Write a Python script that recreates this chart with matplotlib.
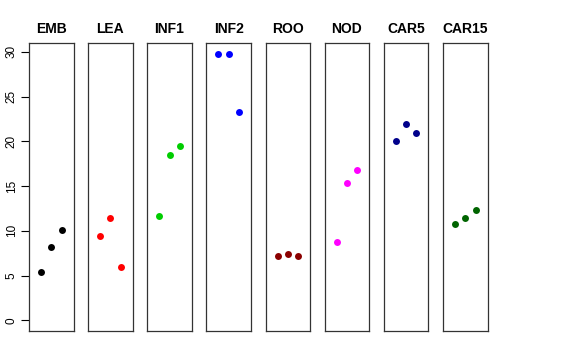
import matplotlib
matplotlib.use('Agg')
import matplotlib.pyplot as plt

plt.rcParams['font.family'] = ['Liberation Sans', 'DejaVu Sans']

# 패널 이름과 색
groups = ['EMB', 'LEA', 'INF1', 'INF2', 'ROO', 'NOD', 'CAR5', 'CAR15']
colors = ['black', 'red', '#00CD00', 'blue', '#8B0000', 'magenta', '#00008B', '#006400']

# 각 패널의 세 점 값
values = [
    [5.4, 8.2, 10.1],
    [9.4, 11.4, 6.0],
    [11.7, 18.5, 19.5],
    [29.8, 29.8, 23.3],
    [7.2, 7.4, 7.2],
    [8.7, 15.4, 16.8],
    [20.0, 21.9, 20.9],
    [10.8, 11.4, 12.3],
]
xpos = [1, 2, 3]
yticks = [0, 5, 10, 15, 20, 25, 30]

fig = plt.figure(figsize=(5.76, 3.6), dpi=100)

W, H = 576, 360
left0, step, width = 29, 59.15, 44.5
top, bottom = 43, 331

ymin, ymax = 0, 29.8
pad = (ymax - ymin) * 0.04

for i, (g, c, v) in enumerate(zip(groups, colors, values)):
    x0 = left0 + i * step
    ax = fig.add_axes([x0 / W, 1 - bottom / H, width / W, (bottom - top) / H])
    ax.plot(xpos, v, 'o', color=c, markersize=5, markeredgewidth=0)
    ax.set_xlim(-0.16, 4.16)
    ax.set_ylim(ymin - pad, ymax + pad)
    ax.set_xticks([])
    ax.set_title(g, fontsize=10, fontweight='bold', pad=7)
    for s in ax.spines.values():
        s.set_linewidth(0.9)
        s.set_color('#333333')
    if i == 0:
        ax.set_yticks(yticks)
        ax.tick_params(axis='y', labelsize=8.5, length=6, width=0.8, pad=2)
        for lab in ax.get_yticklabels():
            lab.set_rotation(90)
            lab.set_va('center')
    else:
        ax.set_yticks([])

fig.savefig('out.png', dpi=100)
